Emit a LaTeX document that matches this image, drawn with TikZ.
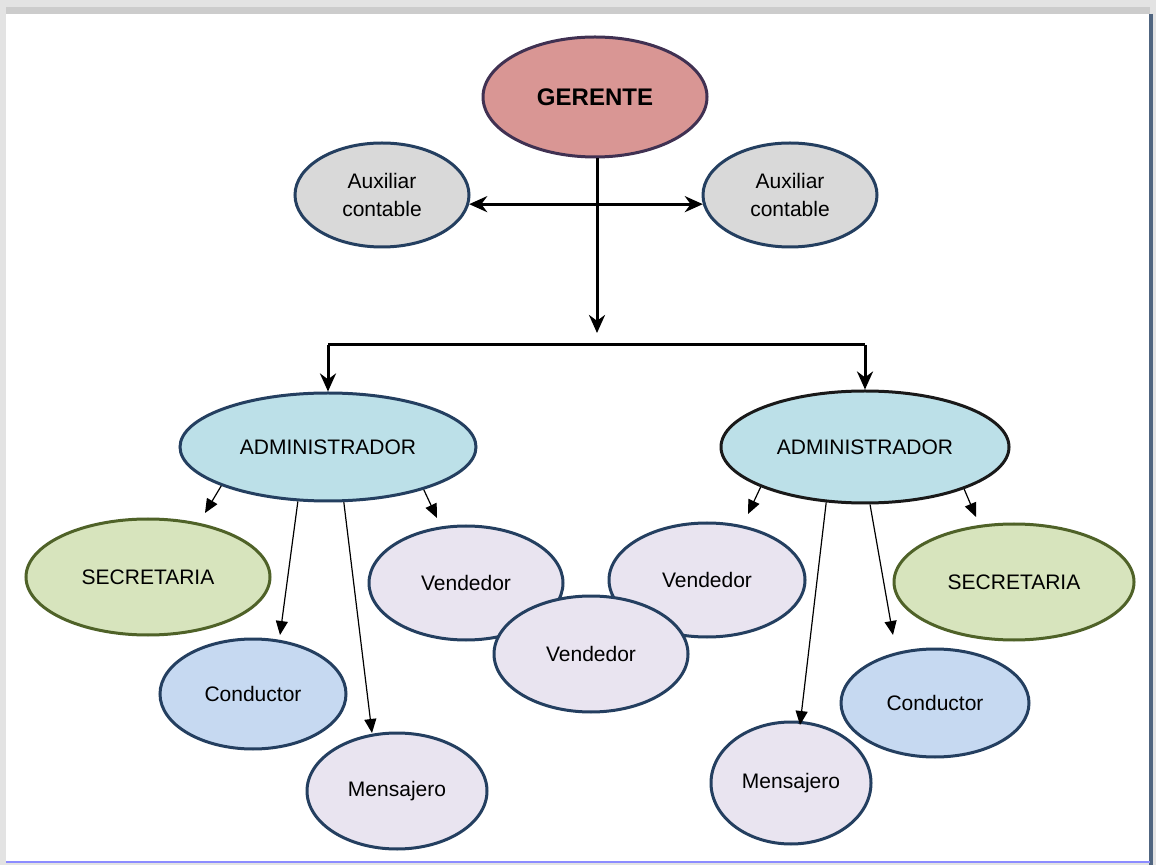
\documentclass[tikz,border=0pt]{standalone}
\usepackage{fontspec}
\setmainfont{Liberation Sans}
\usetikzlibrary{shapes.geometric,arrows.meta}

\definecolor{gerfill}{HTML}{D99694}
\definecolor{gerline}{HTML}{403152}
\definecolor{auxfill}{HTML}{D9D9D9}
\definecolor{blueline}{HTML}{243F60}
\definecolor{admfill}{HTML}{BCE0E8}
\definecolor{secfill}{HTML}{D7E4BD}
\definecolor{secline}{HTML}{4F6228}
\definecolor{condfill}{HTML}{C6D9F1}
\definecolor{persfill}{HTML}{E9E4F0}

\tikzset{
    orgnode/.style={ellipse, inner sep=0pt, line width=1.5pt, draw=blueline,
        font=\fontsize{10.5}{14}\selectfont, align=center},
    gerbox/.style={orgnode, fill=gerfill, draw=gerline,
        font=\fontsize{12}{14}\selectfont\bfseries},
    auxbox/.style={orgnode, fill=auxfill},
    admbox/.style={orgnode, fill=admfill},
    secbox/.style={orgnode, fill=secfill, draw=secline},
    condbox/.style={orgnode, fill=condfill},
    persbox/.style={orgnode, fill=persfill},
    thickline/.style={line width=1.5pt},
    thickarrow/.style={thickline, -{Stealth[length=9pt,width=8pt]}},
    thinarrow/.style={line width=0.6pt, -{Triangle[length=7pt,width=6pt]}}
}

\begin{document}
\begin{tikzpicture}[x=0.5pt,y=-0.5pt]

    % Frame
    % -----
    \useasboundingbox (0,0) rectangle (1156,865);
    \fill[gray!22] (0,0) rectangle (1156,865);
    \fill[gray!40] (6,7) rectangle (1150,14);
    \fill[white] (6,14) rectangle (1150,862);
    \draw[line width=2pt, color=blueline!80] (1151,14) -- (1151,865);
    \draw[line width=1.2pt, color=blue!45] (6,862) -- (1150,862);

    % Top
    % ---
    \node[gerbox, minimum width=112pt, minimum height=60pt] (ger) at (595,97) {GERENTE};
    \node[auxbox, minimum width=87pt, minimum height=52pt] (auxL) at (382,195) {Auxiliar\\contable};
    \node[auxbox, minimum width=87pt, minimum height=52pt] (auxR) at (790,195) {Auxiliar\\contable};

    \coordinate (join) at (597,333);
    \coordinate (barL) at (328,345);
    \coordinate (barR) at (865,345);

    % Administradores
    % ---------------
    \node[admbox, minimum width=148pt, minimum height=54pt] (admL) at (328,447) {ADMINISTRADOR};
    \node[admbox, draw=black!90, minimum width=144pt, minimum height=56pt] (admR) at (865,447) {ADMINISTRADOR};

    % Left staff
    % ----------
    \node[secbox, minimum width=122pt, minimum height=58pt] (secL) at (148,577) {SECRETARIA};
    \node[condbox, minimum width=93pt, minimum height=55pt] (condL) at (253,694) {Conductor};
    \node[persbox, minimum width=90pt, minimum height=58pt] (mensL) at (397,791) {Mensajero};

    % Vendedores
    % ----------
    \node[persbox, minimum width=97pt, minimum height=57pt] (vendL) at (466,583) {Vendedor};
    \node[persbox, minimum width=98pt, minimum height=57pt] (vendR) at (707,580) {Vendedor};
    \node[persbox, minimum width=97pt, minimum height=58pt] (vendM) at (591,654) {Vendedor};

    % Right staff
    % -----------
    \node[secbox, minimum width=120pt, minimum height=58pt] (secR) at (1014,582) {SECRETARIA};
    \node[condbox, minimum width=94pt, minimum height=54pt] (condR) at (935,703) {Conductor};
    \node[persbox, minimum width=80pt, minimum height=61pt] (mensR) at (791,783) {Mensajero};

    % Arrow tips
    % ----------
    \coordinate (tipSecL)  at (205,513);
    \coordinate (tipCondL) at (280,635);
    \coordinate (tipMensL) at (372,733);
    \coordinate (tipVendL) at (437,518);
    \coordinate (tipVendR) at (748,514);
    \coordinate (tipMensR) at (800,725);
    \coordinate (tipCondR) at (893,635);
    \coordinate (tipSecR)  at (976,517);

    % Draw Paths
    % ----------
    \draw[thickarrow] (ger.south -| join) -- (join);
    \draw[thickline, {Stealth[length=9pt,width=8pt]}-{Stealth[length=9pt,width=8pt]}] (auxL.-6) -- (auxR.186);
    \draw[thickline] (barL) -- (barR);
    \draw[thickarrow] (barL) -- (admL.north);
    \draw[thickarrow] (barR) -- (admR.north);

    \draw[thinarrow] (admL.200) -- (tipSecL);
    \draw[thinarrow] (admL.241) -- (tipCondL);
    \draw[thinarrow] (admL.-74) -- (tipMensL);
    \draw[thinarrow] (admL.-24) -- (tipVendL);

    \draw[thinarrow] (admR.201) -- (tipVendR);
    \draw[thinarrow] (admR.235) -- (tipMensR);
    \draw[thinarrow] (admR.-85) -- (tipCondR);
    \draw[thinarrow] (admR.-23) -- (tipSecR);

\end{tikzpicture}
\end{document}
